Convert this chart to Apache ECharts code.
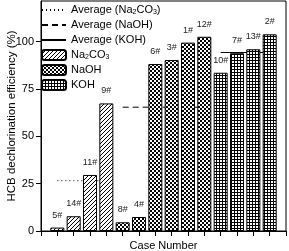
<!DOCTYPE html>
<html>
<head>
<meta charset="utf-8">
<script src="https://cdn.jsdelivr.net/npm/echarts@6/dist/echarts.min.js"></script>
<style>html,body{margin:0;padding:0;background:#fff;}#c{width:289px;height:251px;}</style>
</head>
<body>
<div id="c"></div>
<script>
const cases = ['5#','14#','11#','9#','8#','4#','6#','3#','1#','12#','10#','7#','13#','2#'];
const groups = ['Na2CO3','Na2CO3','Na2CO3','Na2CO3','NaOH','NaOH','NaOH','NaOH','NaOH','NaOH','KOH','KOH','KOH','KOH'];
const efficiency = [1.8, 7.8, 29.6, 67.4, 4.6, 7.4, 88.2, 90.3, 99.5, 102.6, 83.6, 93.9, 96.0, 103.9];
const averages = {Na2CO3: 26.6, NaOH: 65.4, KOH: 94.3};
const yTicks = [0, 25, 50, 75, 100];
const groupNames = ['Na2CO3','NaOH','KOH'];

function makePattern(kind){
  const c = document.createElement('canvas');
  const ctx = c.getContext('2d');
  if (kind === 'hatch') {
    c.width = 4; c.height = 4;
    ctx.fillStyle = '#fff'; ctx.fillRect(0,0,4,4);
    ctx.strokeStyle = '#000'; ctx.lineWidth = 1;
    ctx.beginPath();
    ctx.moveTo(0,4); ctx.lineTo(4,0);
    ctx.moveTo(-1,1); ctx.lineTo(1,-1);
    ctx.moveTo(3,5); ctx.lineTo(5,3);
    ctx.stroke();
  } else if (kind === 'checker') {
    c.width = 4; c.height = 4;
    ctx.fillStyle = '#fff'; ctx.fillRect(0,0,4,4);
    ctx.fillStyle = '#000';
    ctx.fillRect(0,0,2,2); ctx.fillRect(2,2,2,2);
  } else {
    c.width = 3; c.height = 3;
    ctx.fillStyle = '#fff'; ctx.fillRect(0,0,3,3);
    ctx.fillStyle = '#000';
    ctx.fillRect(0,0,1,3); ctx.fillRect(0,0,3,1);
  }
  return {image: c, repeat: 'repeat'};
}
const patterns = {Na2CO3: makePattern('hatch'), NaOH: makePattern('checker'), KOH: makePattern('grid')};
const dashTypes = {Na2CO3: [1, 3], NaOH: [6, 4], KOH: 'solid'};

const xCategories = [''].concat(cases, ['']);

const series = [];
groupNames.forEach(g => {
  const data = [null].concat(efficiency.map((v, i) => groups[i] === g ? v : null), [null]);
  series.push({
    name: g, type: 'bar', barWidth: 14, barGap: '-100%', z: 3,
    data: data,
    itemStyle: {color: patterns[g], borderColor: '#000', borderWidth: 1},
    label: {show: true, position: 'top', distance: 8, fontSize: 9, color: '#222',
            fontFamily: 'Liberation Sans, Arial, sans-serif',
            formatter: p => p.name}
  });
});
groupNames.forEach(g => {
  const data = [null].concat(groups.map(gg => gg === g ? averages[g] : null), [null]);
  series.push({
    name: 'Average (' + g + ')', type: 'line', z: 1, symbol: 'none', showSymbol: false, silent: true,
    data: data, connectNulls: false,
    lineStyle: {color: '#000', width: 1, type: dashTypes[g]},
    itemStyle: {color: '#000'}
  });
});

const chart = echarts.init(document.getElementById('c'), null, {renderer: 'canvas'});
chart.setOption({
  animation: false,
  backgroundColor: '#fff',
  textStyle: {fontFamily: 'Liberation Sans, Arial, sans-serif'},
  grid: {left: 41, right: 3, top: 1, bottom: 20, show: true, borderColor: '#000', borderWidth: 1,
         backgroundColor: 'transparent', containLabel: false, outerBoundsMode: 'none'},
  legend: {
    orient: 'vertical', left: 41, top: 4, padding: 0,
    itemWidth: 24, itemHeight: 10, itemGap: 3,
    data: [
      {name: 'Average (Na2CO3)', itemStyle: {opacity: 0}},
      {name: 'Average (NaOH)', itemStyle: {opacity: 0}},
      {name: 'Average (KOH)', itemStyle: {opacity: 0}},
      'Na2CO3', 'NaOH', 'KOH'],
    formatter: name => name.replace(/(\d)/g, '{s|$1}'),
    textStyle: {fontSize: 11, color: '#000', lineHeight: 12, fontFamily: 'Liberation Sans, Arial, sans-serif',
      rich: {s: {fontSize: 7, lineHeight: 6, verticalAlign: 'bottom', color: '#000'}}}
  },
  xAxis: {
    type: 'category', data: xCategories, boundaryGap: false,
    name: 'Case Number', nameLocation: 'middle', nameGap: 9,
    nameTextStyle: {fontSize: 11, color: '#000'},
    axisLine: {lineStyle: {color: '#000', width: 1}},
    axisTick: {show: true, length: 5, inside: false, interval: 0, lineStyle: {color: '#000'}},
    axisLabel: {show: false},
    splitLine: {show: false}
  },
  yAxis: {
    type: 'value', min: 0, max: 121.5, interval: 25,
    name: 'HCB dechlorination efficiency (%)', nameLocation: 'middle', nameGap: 23, nameMoveOverlap: false,
    nameTextStyle: {fontSize: 11.5, color: '#000'},
    axisLine: {show: true, lineStyle: {color: '#000', width: 1}},
    axisTick: {show: true, length: 5, lineStyle: {color: '#000'}, customValues: yTicks},
    axisLabel: {fontSize: 11, color: '#000', margin: 7, customValues: yTicks},
    splitLine: {show: false}
  },
  series: series
});
</script>
</body>
</html>
